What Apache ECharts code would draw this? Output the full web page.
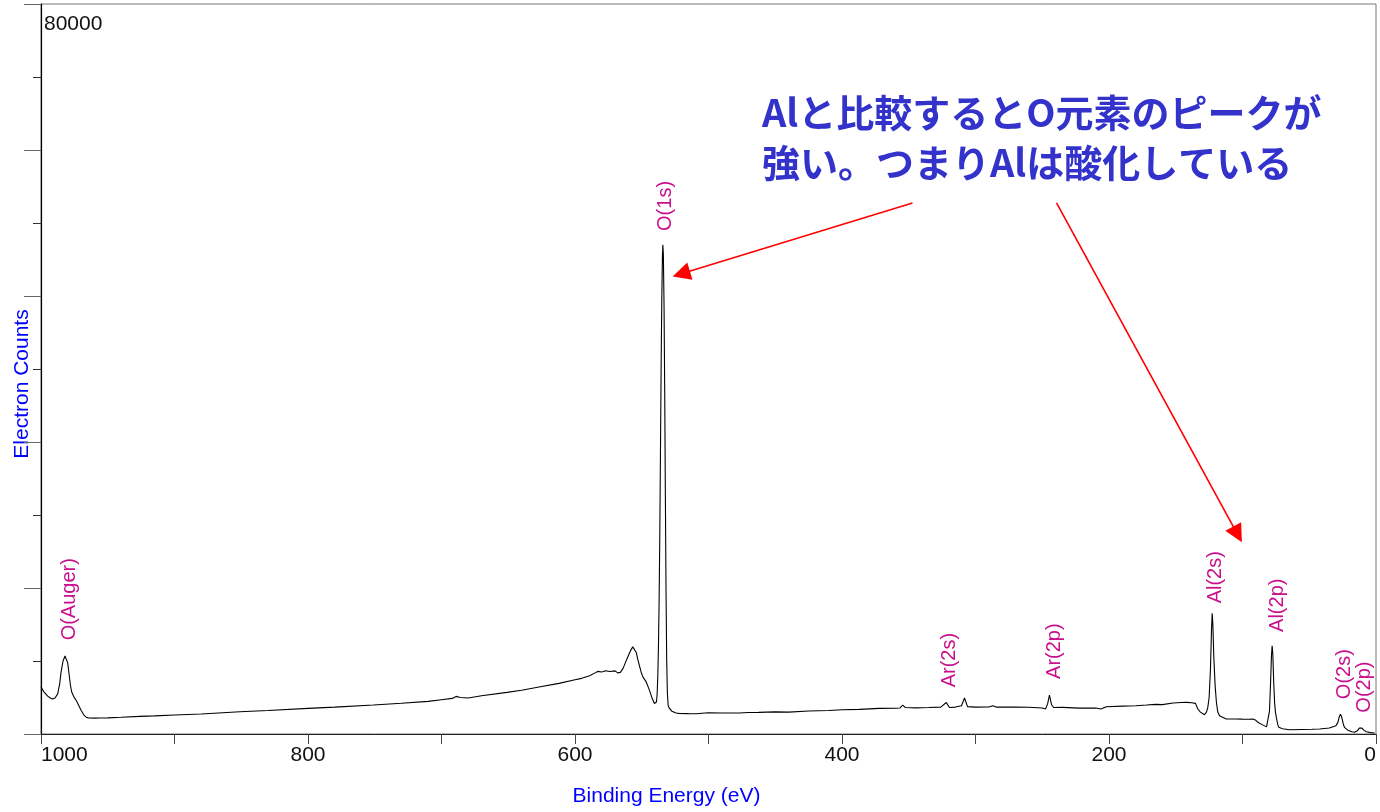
<!DOCTYPE html>
<html>
<head>
<meta charset="utf-8">
<script src="https://cdn.jsdelivr.net/npm/echarts@6/dist/echarts.min.js"></script>
<style>
html,body{margin:0;padding:0;background:#fff;}
#chart{width:1380px;height:812px;}
</style>
</head>
<body>
<div id="chart"></div>
<script>
// Binding energy (eV) and electron counts
const bindingEnergy = [
  1000, 998, 995, 993, 991.5, 989.5, 987.5, 986, 985, 983.5, 982, 981, 980, 979, 978, 977, 975.5, 973.5, 972, 970, 968, 966, 964, 960, 956, 950,
  940, 926, 915, 900, 880, 851, 830, 800, 780, 751, 730, 710, 700, 692, 689, 686, 680, 670, 651, 640, 626, 612, 600, 595, 589, 585, 583, 580, 577, 574, 570, 568, 566, 564, 562, 560, 558, 556.7, 555.5, 554, 553, 551.7, 550.5, 549, 547, 545.5, 544, 542, 540.5, 539.7,
  539, 538.5, 538, 537.5, 537, 536.5, 536, 535.5, 535, 534.5, 534.2, 533.8, 533.3, 532.8, 532.3, 531.8, 531.3, 530.8, 530.2, 529.2, 527.5, 524.2, 522.4,
  515, 509, 505, 500, 490, 477, 470, 462.5, 450, 440, 425, 410, 400, 387, 372, 360, 356.5, 354.5, 352.5, 345, 335, 326, 321.9, 319.5, 315, 310.5, 308.2, 306, 300, 290, 287, 284.5,
  270, 260, 250, 247.5, 246, 244.6, 243, 241.5, 235, 222, 210, 206, 202, 190, 180, 172, 165, 160, 152, 146, 142, 138, 135.2, 133.5, 131.5, 128.5, 127, 126, 125, 124, 123.2, 122.7, 122.2, 121.5, 120.5, 119.5, 118.5, 117.2, 116, 112.2,
  105, 100, 95, 92.3, 90, 88.5, 85, 82, 80.7, 79.8, 79, 78.3, 77.8, 77.3, 76.6, 75.9, 75.3, 74.5, 73.5, 72.8, 70, 64.8, 55, 48, 42.3, 35, 30, 28.5, 27.5, 26.6, 25.6, 24.5, 23.6, 21, 18, 16, 14, 12.5, 11.6, 10.5, 9, 7.3, 4, 1.1
];
const electronCounts = [
  5140, 4650, 4150, 3950, 3830, 3950, 4400, 5500, 6750, 8000, 8550, 8400, 7800, 6600, 5400, 4600, 4100, 3650, 3200, 2600, 2100, 1820, 1760, 1740, 1750, 1770,
  1830, 1930, 1990, 2080, 2200, 2440, 2570, 2810, 2950, 3170, 3370, 3580, 3760, 3900, 4120, 4000, 3940, 4200, 4560, 4800, 5180, 5550, 5950, 6100, 6380, 6700, 6860, 6800, 6930, 6850, 6920, 6700, 6750, 7190, 7900, 8600, 9250, 9550, 9400, 8900, 8200, 7470, 6800, 6200, 5800, 5280, 4700, 3830, 3350, 3200,
  3500, 4300, 6200, 9500, 14500, 21500, 30500, 40000, 47500, 52500, 53600, 52500, 47000, 37500, 26000, 15500, 8000, 4500, 3100, 2800, 2500, 2300, 2260,
  2230, 2220, 2280, 2330, 2300, 2300, 2360, 2370, 2420, 2400, 2520, 2580, 2650, 2700, 2810, 2830, 2850, 3170, 2900, 2860, 2900, 2950, 3450, 2900, 2950, 3100, 3940, 3000, 2950, 2960, 3100, 2950,
  2950, 2930, 2850, 2750, 3300, 4270, 3200, 2900, 2920, 2840, 2850, 2740, 2990, 3050, 3100, 3170, 3250, 3220, 3390, 3450, 3470, 3420, 3360, 2740, 2400, 2110, 2400, 2900, 4000, 7100, 11500, 13240, 12000, 8500, 5300, 3400, 2400, 2000, 1800, 1640,
  1650, 1630, 1620, 1640, 1500, 1280, 1000, 780, 900, 2500, 5500, 8600, 9660, 8800, 5600, 3300, 2370, 1700, 1000, 730, 580, 470, 500, 520, 550, 650, 910, 1300, 1900, 2160, 1800, 1100, 730, 400, 250, 190, 350, 650, 730, 640, 400, 250, 150, 110
];
const xTicks = [0, 100, 200, 300, 400, 500, 600, 700, 800, 900, 1000];
const yTopLabel = 80000;
const peakNames = ['O(Auger)', 'O(1s)', 'Ar(2s)', 'Ar(2p)', 'Al(2s)', 'Al(2p)', 'O(2s)', 'O(2p)'];
const noteText = 'Alと比較するとO元素のピークが\n強い。つまりAlは酸化している';

// annotation anchors (data coordinates)
const peakLabelAt = [[978.7, 14770], [532.2, 57870], [319.5, 8100], [240.8, 9080], [120.2, 17180], [73.8, 14110], [23.6, 6560], [8.6, 5140]];
const arrowLines = [
  [[347.2, 58200], [520.4, 50430]],
  [[239.3, 58200], [103.7, 21880]]
];

const chart = echarts.init(document.getElementById('chart'), null, {renderer: 'canvas'});
const latin = '"Liberation Sans", Arial, sans-serif';
chart.setOption({
  animation: false,
  backgroundColor: '#fff',
  grid: {left: 41, right: 4, top: 4, bottom: 77, show: true, borderColor: '#777', borderWidth: 1, backgroundColor: 'transparent'},
  xAxis: {
    type: 'value', min: 0, max: 1000, interval: 100, inverse: true,
    splitLine: {show: false},
    axisLine: {show: true, onZero: false, lineStyle: {color: '#222', width: 1}},
    axisTick: {show: true, length: 10, lineStyle: {color: '#444'}},
    axisLabel: {
      fontSize: 21, color: '#111', fontFamily: latin, margin: 11,
      alignMinLabel: 'right', alignMaxLabel: 'left',
      formatter: v => (v % 200 === 0 && xTicks.includes(v)) ? String(v) : ''
    },
    name: 'Binding Energy (eV)', nameLocation: 'middle', nameGap: 52,
    nameTextStyle: {color: '#0000ff', fontSize: 21, fontFamily: latin, padding: [0, 84, 0, 0]}
  },
  yAxis: {
    type: 'value', min: 0, max: 80000, interval: 16000, position: 'left',
    splitLine: {show: false},
    axisLine: {show: true, onZero: false, lineStyle: {color: '#000', width: 1.2}},
    axisTick: {show: true, length: 17, lineStyle: {color: '#666'}},
    minorTick: {show: true, splitNumber: 2, length: 8, lineStyle: {color: '#333'}},
    minorSplitLine: {show: false},
    axisLabel: {
      inside: true, margin: 3, fontSize: 21, color: '#111', fontFamily: latin,
      verticalAlign: 'top', lineHeight: 40,
      formatter: v => v === yTopLabel ? String(v) : ''
    },
    name: 'Electron Counts', nameLocation: 'middle', nameGap: 8,
    nameTextStyle: {color: '#0000ff', fontSize: 21, fontFamily: latin, padding: [0, 30, 0, 0]}
  },
  series: [{
    type: 'line',
    data: bindingEnergy.map((b, i) => [b, electronCounts[i]]),
    showSymbol: false, symbol: 'none',
    lineStyle: {color: '#000', width: 1.1},
    silent: true,
    markPoint: {
      silent: true,
      symbol: 'circle', symbolSize: 1,
      itemStyle: {color: 'rgba(0,0,0,0)'},
      label: {show: true, position: 'inside', rotate: 90, formatter: '{b}', color: '#c8108c', fontSize: 20, fontFamily: latin},
      data: peakNames.map((n, i) => ({name: n, coord: peakLabelAt[i]}))
    },
    markLine: {
      silent: true,
      symbol: ['none', 'triangle'],
      symbolSize: 18,
      label: {show: false},
      lineStyle: {color: '#ff0000', width: 1.6, type: 'solid'},
      emphasis: {disabled: true},
      data: arrowLines.map(a => [{coord: a[0]}, {coord: a[1]}])
    }
  }],
  graphic: [{
    type: 'text', left: 762, top: 88, silent: true,
    style: {text: noteText, fill: '#3333cc', font: 'bold 38px "Noto Sans CJK JP", sans-serif', lineHeight: 50}
  }]
});
</script>
</body>
</html>
